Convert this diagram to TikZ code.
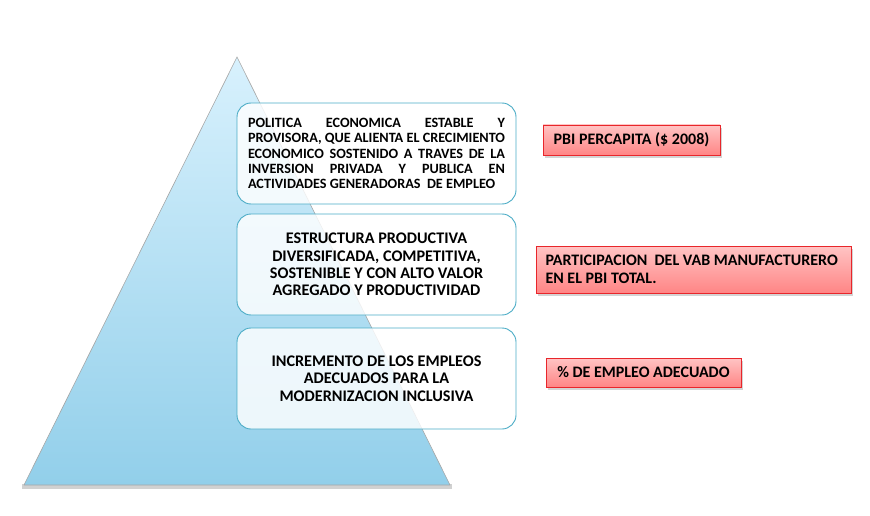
\documentclass[tikz,border=0pt]{standalone}
\usepackage{fontspec}
\setmainfont{Carlito}
\usetikzlibrary{shadows}
\definecolor{tritop}{HTML}{D8F1FD}
\definecolor{tribot}{HTML}{92CFEA}
\definecolor{boxline}{HTML}{4BACC6}
\definecolor{redtop}{HTML}{FFC4C4}
\definecolor{redbot}{HTML}{FF8585}
\definecolor{redline}{HTML}{E8262B}
\tikzset{
  bluebox/.style={draw=boxline, line width=0.9pt, fill=white, fill opacity=0.82, text opacity=1,
    rounded corners=14pt, minimum width=279pt, minimum height=101pt, inner sep=0pt,
    font=\bfseries\fontsize{16.2}{17.3}\selectfont},
  redbox/.style={draw=redline, line width=0.9pt, top color=redtop, bottom color=redbot,
    drop shadow={shadow xshift=2pt, shadow yshift=-3pt, opacity=0.35},
    inner sep=0pt, font=\bfseries\fontsize{16}{18}\selectfont}
}
\newcommand{\jline}[1]{\makebox[257pt][s]{#1}}
\begin{document}
\begin{tikzpicture}[x=1pt,y=-1pt]
\useasboundingbox (0,0) rectangle (870,516);
% pyramid
\path[fill=black, opacity=0.18] (22,484) -- (452,484) -- (452,489) -- (22,489) -- cycle;
\shade[top color=tritop, bottom color=tribot, draw=gray!70, line width=0.6pt]
  (237,57) -- (450,485) -- (24,485) -- cycle;
% blue boxes
\node[bluebox, font=\bfseries\fontsize{14.2}{15.4}\selectfont, align=left] (b1) at (376.5,153.5)
  {\jline{POLITICA ECONOMICA ESTABLE Y}\\
   \jline{PROVISORA, QUE ALIENTA EL CRECIMIENTO}\\
   \jline{ECONOMICO SOSTENIDO A TRAVES DE LA}\\
   \jline{INVERSION PRIVADA Y PUBLICA EN}\\
   \makebox[257pt][l]{ACTIVIDADES GENERADORAS\ \ DE EMPLEO}};
\node[bluebox, align=center] (b2) at (376.5,264.5)
  {ESTRUCTURA PRODUCTIVA\\DIVERSIFICADA, COMPETITIVA,\\SOSTENIBLE Y CON ALTO VALOR\\AGREGADO Y PRODUCTIVIDAD};
\node[bluebox, align=center] (b3) at (376.5,378.5)
  {INCREMENTO DE LOS EMPLEOS\\ADECUADOS PARA LA\\MODERNIZACION INCLUSIVA};
% red boxes
\node[redbox, minimum width=177pt, minimum height=30pt] (r1) at (631.5,140)
  {PBI PERCAPITA (\$ 2008)};
\node[redbox, minimum width=315pt, minimum height=47pt, align=left] (r2) at (693.5,269.5)
  {\parbox{296pt}{PARTICIPACION\ \ DEL VAB MANUFACTURERO\\EN EL PBI TOTAL.}};
\node[redbox, minimum width=195pt, minimum height=29pt] (r3) at (643.5,372.5)
  {\% DE EMPLEO ADECUADO};
\end{tikzpicture}
\end{document}
